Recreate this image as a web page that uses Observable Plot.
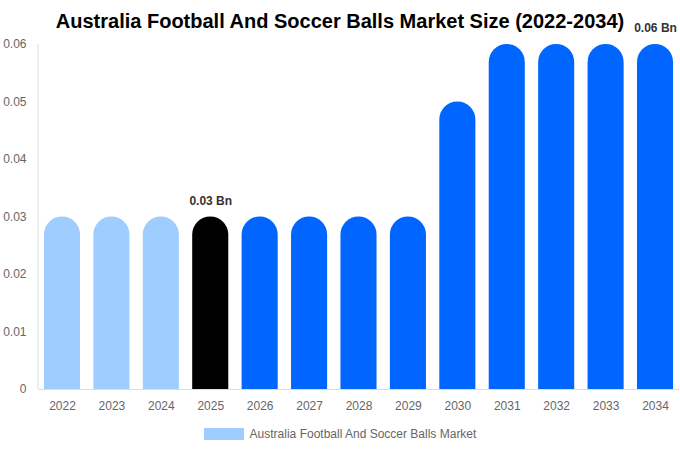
<!DOCTYPE html>
<html>
<head>
<meta charset="utf-8">
<script src="https://cdn.jsdelivr.net/npm/d3@7"></script>
<script src="https://cdn.jsdelivr.net/npm/@observablehq/plot@0.6"></script>
<style>
  html, body { margin: 0; padding: 0; background: #fff; }
  body { font-family: "Liberation Sans", Arial, sans-serif; width: 680px; height: 450px; overflow: hidden; }
  #wrap { position: relative; width: 680px; height: 450px; }
  #title { position: absolute; left: 0; top: 8px; width: 680px; text-align: center; font-weight: bold; font-size: 20px; color: #000; line-height: 26px; }
  #chart { position: absolute; left: 0; top: 0; }
  #legend { position: absolute; left: 0; top: 427px; width: 680px; display: flex; justify-content: center; align-items: center; font-size: 12px; color: #666; }
  #legend .sw { width: 40px; height: 12px; background: #a0cdff; margin-right: 6px; }
  svg { overflow: visible; }
</style>
</head>
<body>
<div id="wrap">
  <div id="chart"></div>
  <div id="title">Australia Football And Soccer Balls Market Size (2022-2034)</div>
  <div id="legend"><div class="sw"></div><span>Australia Football And Soccer Balls Market</span></div>
</div>
<script>
const years = ["2022","2023","2024","2025","2026","2027","2028","2029","2030","2031","2032","2033","2034"];
const values = [0.03,0.03,0.03,0.03,0.03,0.03,0.03,0.03,0.05,0.06,0.06,0.06,0.06];
const colors = ["#a0cdff","#a0cdff","#a0cdff","#000000","#0066ff","#0066ff","#0066ff","#0066ff","#0066ff","#0066ff","#0066ff","#0066ff","#0066ff"];
const yTicks = [0,0.01,0.02,0.03,0.04,0.05,0.06];
const labelYears = ["2025","2034"];
const labelTexts = ["0.03 Bn","0.06 Bn"];

const data = years.map((y, i) => ({year: y, value: values[i], color: colors[i]}));
const labels = labelYears.map((y, i) => ({year: y, value: values[years.indexOf(y)], text: labelTexts[i]}));

const chart = Plot.plot({
  width: 680,
  height: 420,
  marginLeft: 38,
  marginRight: 1,
  marginTop: 44,
  marginBottom: 31,
  style: {fontFamily: "Liberation Sans, Arial, sans-serif", fontSize: "12px", color: "#666", background: "transparent"},
  x: {domain: years, paddingInner: 0.27, paddingOuter: 0.12, round: false, label: null, tickSize: 0, tickPadding: 12},
  y: {domain: [0, 0.06], ticks: yTicks, tickFormat: d => d === 0 ? "0" : d.toFixed(2), label: null, tickSize: 0, tickPadding: 12},
  marks: [
    Plot.barY(data, {x: "year", y1: () => -0.01, y2: "value", fill: "color", rx: 18, ry: 18, clip: true}),
    Plot.ruleY([0], {stroke: "#ddd"}),
    Plot.text(labels, {x: "year", y: "value", text: "text", dy: -16, fontWeight: "bold", fontSize: 12, fill: "#333"})
  ]
});
const svg = d3.select(chart);
svg.append("line").attr("x1", 38).attr("x2", 38).attr("y1", 44).attr("y2", 389).attr("stroke", "#ddd");
document.getElementById("chart").appendChild(chart);
</script>
</body>
</html>
